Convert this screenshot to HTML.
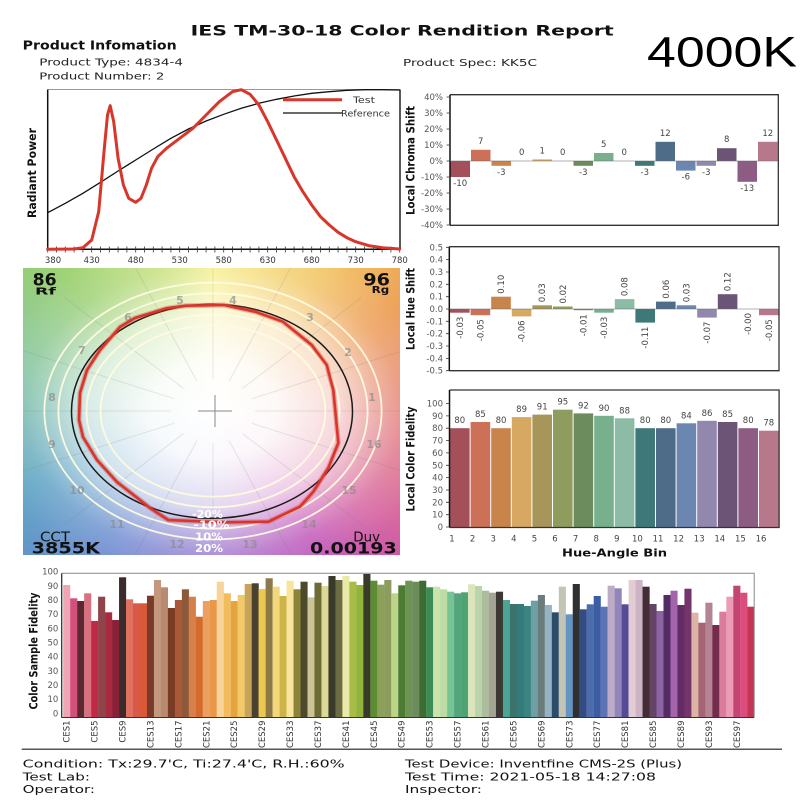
<!DOCTYPE html>
<html><head><meta charset="utf-8">
<style>
html,body{margin:0;padding:0;background:#fff;}
body{width:800px;height:800px;position:relative;overflow:hidden;}
#cvgbg{position:absolute;left:22.7px;top:268px;width:377.3px;height:287px;
background:
radial-gradient(ellipse 140px 107px at 190.3px 143px, rgba(255,255,255,1) 0%, rgba(255,255,255,0.95) 45%, rgba(255,255,255,0.72) 90%, rgba(255,255,255,0.42) 115%, rgba(255,255,255,0.2) 135%, rgba(255,255,255,0.05) 165%, rgba(255,255,255,0) 190%),
conic-gradient(from 0deg at 190.3px 143px, #f6ef88 0deg, #f2c462 38deg, #ec9a52 62deg, #e37a78 92deg, #d6609a 120deg, #c04fb6 142deg, #9a78d0 180deg, #6a8ad0 218deg, #58a0c2 248deg, #7cc0a0 280deg, #9ad070 312deg, #c6e07a 340deg, #f6ef88 360deg);}
svg{position:absolute;left:0;top:0;}
text{font-family:"DejaVu Sans","Liberation Sans",sans-serif;}
.tk{font-size:8.5px;fill:#555;}
.ax{font-size:11.5px;font-weight:bold;fill:#111;}
.bl{font-size:8.5px;fill:#444;}
.hl{font-size:11px;font-weight:bold;fill:#8a8a8a;fill-opacity:0.7;text-anchor:middle;}
</style></head><body>
<div id="cvgbg"></div>
<svg width="800" height="800" viewBox="0 0 800 800">
<defs><clipPath id="cv"><rect x="22.7" y="268" width="377.3" height="287"/></clipPath></defs>

<!-- Header -->
<text x="190.7" y="35.5" font-size="14.5" font-weight="bold" fill="#111" textLength="423" lengthAdjust="spacingAndGlyphs">IES TM-30-18 Color Rendition Report</text>
<text x="22.7" y="49.3" font-size="12" font-weight="bold" fill="#111" textLength="154" lengthAdjust="spacingAndGlyphs">Product Infomation</text>
<text x="39.3" y="65.7" font-size="10" fill="#222" textLength="143.7" lengthAdjust="spacingAndGlyphs">Product Type: 4834-4</text>
<text x="39.3" y="79.3" font-size="10" fill="#222" textLength="125" lengthAdjust="spacingAndGlyphs">Product Number: 2</text>
<text x="403" y="66" font-size="10" fill="#222" textLength="134" lengthAdjust="spacingAndGlyphs">Product Spec: KK5C</text>
<text x="647" y="66.7" font-size="42.5" fill="#000" style="font-family:'Liberation Sans',sans-serif" textLength="150" lengthAdjust="spacingAndGlyphs">4000K</text>

<!-- Spectral plot -->
<line x1="47.7" y1="89.5" x2="400" y2="89.5" stroke="#999" stroke-width="1"/>
<line x1="400" y1="89.5" x2="400" y2="249.3" stroke="#222" stroke-width="1.5"/>
<line x1="47.7" y1="89.5" x2="47.7" y2="249.3" stroke="#111" stroke-width="1.5"/>
<line x1="47.7" y1="249.3" x2="400" y2="249.3" stroke="#111" stroke-width="1.5"/>
<path d="M47.7 246.5v6M56.5 246.5v6M65.3 246.5v6M74.1 246.5v6M82.9 246.5v6M91.7 246.5v6M100.5 246.5v6M109.3 246.5v6M118.1 246.5v6M126.9 246.5v6M135.7 246.5v6M144.5 246.5v6M153.3 246.5v6M162.1 246.5v6M170.9 246.5v6M179.7 246.5v6M188.5 246.5v6M197.3 246.5v6M206.1 246.5v6M214.9 246.5v6M223.7 246.5v6M232.5 246.5v6M241.3 246.5v6M250.1 246.5v6M258.9 246.5v6M267.7 246.5v6M276.5 246.5v6M285.3 246.5v6M294.1 246.5v6M302.9 246.5v6M311.7 246.5v6M320.5 246.5v6M329.3 246.5v6M338.1 246.5v6M346.9 246.5v6M355.7 246.5v6M364.5 246.5v6M373.3 246.5v6M382.1 246.5v6M390.9 246.5v6M399.7 246.5v6" stroke="#333" stroke-width="0.8"/>
<g class="tk" text-anchor="middle" style="fill:#333">
<text x="53" y="263">380</text><text x="91.7" y="263">430</text><text x="135.7" y="263">480</text><text x="179.7" y="263">530</text><text x="223.7" y="263">580</text><text x="267.7" y="263">630</text><text x="311.7" y="263">680</text><text x="355.7" y="263">730</text><text x="399.7" y="263">780</text>
</g>
<polyline fill="none" stroke="#111" stroke-width="1.3" points="47.7,212.7 65.3,203.3 82.9,193.3 100.5,182.3 118.1,171 135.7,160 153.3,149 170.9,138.3 188.5,129 206.1,121 223.7,114.3 241.3,108.3 258.9,103.3 276.5,99.3 294.1,96 311.7,93.3 329.3,91.7 346.9,90.3 364.5,89.7 382.1,89.7 399.7,90"/>
<polyline fill="none" stroke="#d8352b" stroke-width="3" stroke-linejoin="round" stroke-linecap="round" points="47.7,249.3 74.1,249 82.9,247.7 91.7,240 98.7,211.7 104,151.7 107.5,115 110.2,105.7 113.7,121.7 118.1,158.3 123.4,185 128.7,198.3 135.7,202.3 141,198.3 146.3,185 151.5,168.3 157.7,156.7 166.5,148.3 179.7,138.3 192.9,128.3 206.1,115 219.3,101.7 232.5,91.7 241.3,89.7 250.1,94.3 258.9,105 267.7,121.7 276.5,140 285.3,158.3 294.1,176.7 302.9,191.7 311.7,205 320.5,216.7 329.3,225 338.1,232.3 346.9,237.7 355.7,241.7 368.9,245.7 382.1,247.7 399.7,249"/>
<line x1="283" y1="99.7" x2="342" y2="99.7" stroke="#d8352b" stroke-width="3"/>
<text x="353" y="103" font-size="8.5" fill="#333" textLength="22" lengthAdjust="spacingAndGlyphs">Test</text>
<line x1="283" y1="113" x2="342" y2="113" stroke="#111" stroke-width="1.2"/>
<text x="341" y="116.5" font-size="8.5" fill="#333" textLength="49" lengthAdjust="spacingAndGlyphs">Reference</text>
<text class="ax" transform="translate(36,173) rotate(-90)" text-anchor="middle" textLength="90" lengthAdjust="spacingAndGlyphs">Radiant Power</text>

<!-- CVG -->
<g clip-path="url(#cv)">
<path d="M251.8 398.7L407 349.5M242.7 388.3L361.5 297.5M229.1 381.3L293.4 262.7M213 378.9L213 250.5M196.9 381.3L132.6 262.7M183.3 388.3L64.5 297.5M174.2 398.7L19 349.5M174.2 423.3L19 472.5M183.3 433.7L64.5 524.5M196.9 440.7L132.6 559.3M213 443.1L213 571.5M229.1 440.7L293.4 559.3M242.7 433.7L361.5 524.5M251.8 423.3L407 472.5M255 411L423 411M171 411L3 411" stroke="#777" stroke-opacity="0.17" stroke-width="1"/>
<g fill="none" stroke="#fffbe0" stroke-width="1.8" stroke-opacity="0.95">
<ellipse cx="213" cy="411" rx="112.4" ry="85.6"/>
<ellipse cx="213" cy="411" rx="126.5" ry="96.3"/>
<ellipse cx="213" cy="411" rx="154.6" ry="117.7"/>
<ellipse cx="213" cy="411" rx="168.6" ry="128.4"/>
</g>
<path d="M198 411H232M215 395V427" stroke="#888" stroke-width="1"/>
<g class="hl">
<text x="372" y="401">1</text><text x="348" y="356">2</text><text x="310" y="321">3</text><text x="233" y="304">4</text><text x="180" y="304">5</text><text x="128" y="321">6</text><text x="82" y="354">7</text><text x="52" y="401">8</text><text x="52" y="448">9</text><text x="77" y="494">10</text><text x="117" y="528">11</text><text x="177" y="548">12</text><text x="250" y="548">13</text><text x="309" y="528">14</text><text x="349" y="494">15</text><text x="374" y="448">16</text>
</g>
<ellipse cx="212" cy="411.3" rx="140.5" ry="107" fill="none" stroke="#1a1a1a" stroke-width="1.5"/>
<polygon fill="none" stroke="#d8352b" stroke-opacity="0.35" stroke-width="5" stroke-linejoin="round" points="186,305.7 224,305 255,311.7 283,321.7 311.7,345 326.7,365 333.3,390 336,418 338.3,443 328.3,468 313.3,491.7 300,506.7 268.3,521.7 223.3,522.3 168.3,520 150,508 140,500 117,482 97,460 83,437 79,420 80,393 87,370 100,350 120,327 135,318 166.7,308.3"/>
<polygon fill="none" stroke="#d8352b" stroke-width="2.6" stroke-linejoin="round" points="186,305.7 224,305 255,311.7 283,321.7 311.7,345 326.7,365 333.3,390 336,418 338.3,443 328.3,468 313.3,491.7 300,506.7 268.3,521.7 223.3,522.3 168.3,520 150,508 140,500 117,482 97,460 83,437 79,420 80,393 87,370 100,350 120,327 135,318 166.7,308.3"/>
<g font-weight="bold" font-size="10.5" fill="#fff" text-anchor="middle">
<text x="207.5" y="518" textLength="31" lengthAdjust="spacingAndGlyphs">-20%</text>
<text x="211.5" y="528.5" textLength="36" lengthAdjust="spacingAndGlyphs">-10%</text>
<text x="209" y="540.5" textLength="28" lengthAdjust="spacingAndGlyphs">10%</text>
<text x="209" y="552" textLength="28" lengthAdjust="spacingAndGlyphs">20%</text>
</g>
<g fill="#111">
<text x="32.7" y="285.5" font-size="17" font-weight="bold" textLength="24" lengthAdjust="spacingAndGlyphs">86</text>
<text x="35" y="294.5" font-size="9.5" font-weight="bold" textLength="21" lengthAdjust="spacingAndGlyphs">Rf</text>
<text x="363.3" y="285.5" font-size="17" font-weight="bold" textLength="26.7" lengthAdjust="spacingAndGlyphs">96</text>
<text x="371.7" y="293" font-size="9.5" font-weight="bold" textLength="17.6" lengthAdjust="spacingAndGlyphs">Rg</text>
<text x="40" y="541.7" font-size="13.5" textLength="30" lengthAdjust="spacingAndGlyphs">CCT</text>
<text x="31.7" y="553.3" font-size="16" font-weight="bold" textLength="68.3" lengthAdjust="spacingAndGlyphs">3855K</text>
<text x="353.3" y="541.7" font-size="13.5" textLength="26.7" lengthAdjust="spacingAndGlyphs">Duv</text>
<text x="310" y="553.3" font-size="16" font-weight="bold" textLength="86.7" lengthAdjust="spacingAndGlyphs">0.00193</text>
</g>
</g>

<!-- Local Chroma Shift -->
<g>
<rect x="450.5" y="161" width="19.5" height="16" fill="#a4505a"/>
<rect x="471" y="149.8" width="19.5" height="11.2" fill="#cc7058"/>
<rect x="491.5" y="161" width="19.5" height="4.8" fill="#c8844a"/>
<rect x="532.5" y="159.4" width="19.5" height="1.6" fill="#d6a862"/>
<rect x="573.5" y="161" width="19.5" height="4.8" fill="#6c8c5e"/>
<rect x="594" y="153" width="19.5" height="8" fill="#78b08e"/>
<rect x="635" y="161" width="19.5" height="4.8" fill="#3e7878"/>
<rect x="655.5" y="141.8" width="19.5" height="19.2" fill="#4e6c88"/>
<rect x="676" y="161" width="19.5" height="9.6" fill="#6c86b2"/>
<rect x="696.5" y="161" width="19.5" height="4.8" fill="#9288ae"/>
<rect x="717" y="148.2" width="19.5" height="12.8" fill="#6c5476"/>
<rect x="737.5" y="161" width="19.5" height="20.8" fill="#8c5c82"/>
<rect x="758" y="141.8" width="19.5" height="19.2" fill="#b8788c"/>
</g>
<path d="M450 94.7H778.3V225.3H450" fill="none" stroke="#333" stroke-width="1.3"/>
<line x1="450" y1="94.7" x2="450" y2="225.3" stroke="#111" stroke-width="1.5"/>
<line x1="450" y1="161" x2="778" y2="161" stroke="#666" stroke-width="0.6"/>
<path d="M446.5 97H450M446.5 113H450M446.5 129H450M446.5 145H450M446.5 161H450M446.5 177H450M446.5 193H450M446.5 209H450M446.5 225H450" stroke="#333" stroke-width="0.8"/>
<g class="tk" text-anchor="end">
<text x="443" y="100">40%</text><text x="443" y="116">30%</text><text x="443" y="132">20%</text><text x="443" y="148">10%</text><text x="443" y="164">0%</text><text x="443" y="180">-10%</text><text x="443" y="196">-20%</text><text x="443" y="212">-30%</text><text x="443" y="228">-40%</text>
</g>
<g class="bl" text-anchor="middle">
<text x="460.25" y="186">-10</text><text x="480.75" y="143.8">7</text><text x="501.25" y="174.8">-3</text><text x="521.75" y="155">0</text><text x="542.25" y="153.4">1</text><text x="562.75" y="155">0</text><text x="583.25" y="174.8">-3</text><text x="603.75" y="147">5</text><text x="624.25" y="155">0</text><text x="644.75" y="174.8">-3</text><text x="665.25" y="135.8">12</text><text x="685.75" y="179.6">-6</text><text x="706.25" y="174.8">-3</text><text x="726.75" y="142.2">8</text><text x="747.25" y="190.8">-13</text><text x="767.75" y="135.8">12</text>
</g>
<text class="ax" transform="translate(414.5,160.5) rotate(-90)" text-anchor="middle" textLength="109" lengthAdjust="spacingAndGlyphs">Local Chroma Shift</text>

<!-- Local Hue Shift -->
<g>
<rect x="450" y="309" width="19.6" height="3.7" fill="#a4505a"/>
<rect x="470.6" y="309" width="19.6" height="6.2" fill="#cc7058"/>
<rect x="491.2" y="296.7" width="19.6" height="12.3" fill="#c8844a"/>
<rect x="511.8" y="309" width="19.6" height="7.4" fill="#d6a862"/>
<rect x="532.4" y="305.3" width="19.6" height="3.7" fill="#a8955a"/>
<rect x="553" y="306.5" width="19.6" height="2.5" fill="#8e9c5e"/>
<rect x="573.6" y="309" width="19.6" height="1.2" fill="#6c8c5e"/>
<rect x="594.2" y="309" width="19.6" height="3.7" fill="#78b08e"/>
<rect x="614.8" y="299.1" width="19.6" height="9.9" fill="#8cbca6"/>
<rect x="635.4" y="309" width="19.6" height="13.6" fill="#3e7878"/>
<rect x="656" y="301.6" width="19.6" height="7.4" fill="#4e6c88"/>
<rect x="676.6" y="305.3" width="19.6" height="3.7" fill="#6c86b2"/>
<rect x="697.2" y="309" width="19.6" height="8.6" fill="#9288ae"/>
<rect x="717.8" y="294.2" width="19.6" height="14.8" fill="#6c5476"/>
<rect x="759" y="309" width="19.6" height="6.2" fill="#b8788c"/>
</g>
<path d="M449.3 246.7H779V370.7H449.3" fill="none" stroke="#333" stroke-width="1.3"/>
<line x1="449.3" y1="246.7" x2="449.3" y2="370.7" stroke="#111" stroke-width="1.5"/>
<line x1="449.3" y1="309" x2="779" y2="309" stroke="#666" stroke-width="0.6"/>
<path d="M446 247.3H449.3M446 259.6H449.3M446 272H449.3M446 284.3H449.3M446 296.7H449.3M446 309H449.3M446 321.3H449.3M446 333.7H449.3M446 346H449.3M446 358.4H449.3M446 370.7H449.3" stroke="#333" stroke-width="0.8"/>
<g class="tk" text-anchor="end">
<text x="443" y="250.3">0.5</text><text x="443" y="262.6">0.4</text><text x="443" y="275">0.3</text><text x="443" y="287.3">0.2</text><text x="443" y="299.7">0.1</text><text x="443" y="312">0.0</text><text x="443" y="324.3">-0.1</text><text x="443" y="336.7">-0.2</text><text x="443" y="349">-0.3</text><text x="443" y="361.4">-0.4</text><text x="443" y="373.7">-0.5</text>
</g>
<g class="bl">
<text transform="translate(462.8,316.7) rotate(-90)" text-anchor="end">-0.03</text>
<text transform="translate(483.4,319.2) rotate(-90)" text-anchor="end">-0.05</text>
<text transform="translate(504,293.7) rotate(-90)">0.10</text>
<text transform="translate(524.6,320.4) rotate(-90)" text-anchor="end">-0.06</text>
<text transform="translate(545.2,302.3) rotate(-90)">0.03</text>
<text transform="translate(565.8,303.5) rotate(-90)">0.02</text>
<text transform="translate(586.4,314.2) rotate(-90)" text-anchor="end">-0.01</text>
<text transform="translate(607,316.7) rotate(-90)" text-anchor="end">-0.03</text>
<text transform="translate(627.6,296.1) rotate(-90)">0.08</text>
<text transform="translate(648.2,326.6) rotate(-90)" text-anchor="end">-0.11</text>
<text transform="translate(668.8,298.6) rotate(-90)">0.06</text>
<text transform="translate(689.4,302.3) rotate(-90)">0.03</text>
<text transform="translate(710,321.6) rotate(-90)" text-anchor="end">-0.07</text>
<text transform="translate(730.6,291.2) rotate(-90)">0.12</text>
<text transform="translate(751.2,313) rotate(-90)" text-anchor="end">-0.00</text>
<text transform="translate(771.8,319.2) rotate(-90)" text-anchor="end">-0.05</text>
</g>
<text class="ax" transform="translate(414.5,309) rotate(-90)" text-anchor="middle" textLength="82" lengthAdjust="spacingAndGlyphs">Local Hue Shift</text>

<!-- Local Color Fidelity -->
<g>
<rect x="450" y="428.2" width="19.6" height="98.8" fill="#a4505a"/>
<rect x="470.6" y="422" width="19.6" height="105" fill="#cc7058"/>
<rect x="491.2" y="428.2" width="19.6" height="98.8" fill="#c8844a"/>
<rect x="511.8" y="417.1" width="19.6" height="109.9" fill="#d6a862"/>
<rect x="532.4" y="414.6" width="19.6" height="112.4" fill="#a8955a"/>
<rect x="553" y="409.7" width="19.6" height="117.3" fill="#8e9c5e"/>
<rect x="573.6" y="413.4" width="19.6" height="113.6" fill="#6c8c5e"/>
<rect x="594.2" y="415.8" width="19.6" height="111.2" fill="#78b08e"/>
<rect x="614.8" y="418.3" width="19.6" height="108.7" fill="#8cbca6"/>
<rect x="635.4" y="428.2" width="19.6" height="98.8" fill="#3e7878"/>
<rect x="656" y="428.2" width="19.6" height="98.8" fill="#4e6c88"/>
<rect x="676.6" y="423.3" width="19.6" height="103.7" fill="#6c86b2"/>
<rect x="697.2" y="420.8" width="19.6" height="106.2" fill="#9288ae"/>
<rect x="717.8" y="422" width="19.6" height="105" fill="#6c5476"/>
<rect x="738.4" y="428.2" width="19.6" height="98.8" fill="#8c5c82"/>
<rect x="759" y="430.7" width="19.6" height="96.3" fill="#b8788c"/>
</g>
<path d="M449.5 390H779.1V527.5H449.5" fill="none" stroke="#333" stroke-width="1.3"/>
<line x1="449.5" y1="390" x2="449.5" y2="527.5" stroke="#111" stroke-width="1.5"/>
<path d="M446 527H449.5M446 514.7H449.5M446 502.3H449.5M446 490H449.5M446 477.6H449.5M446 465.3H449.5M446 452.9H449.5M446 440.6H449.5M446 428.2H449.5M446 415.9H449.5M446 403.5H449.5" stroke="#333" stroke-width="0.8"/>
<g class="tk" text-anchor="end">
<text x="443" y="530">0</text><text x="443" y="517.7">10</text><text x="443" y="505.3">20</text><text x="443" y="493">30</text><text x="443" y="480.6">40</text><text x="443" y="468.3">50</text><text x="443" y="455.9">60</text><text x="443" y="443.6">70</text><text x="443" y="431.2">80</text><text x="443" y="418.9">90</text><text x="443" y="406.5">100</text>
</g>
<g class="bl" text-anchor="middle">
<text x="459.8" y="423.2">80</text><text x="480.4" y="417">85</text><text x="501" y="423.2">80</text><text x="521.6" y="412.1">89</text><text x="542.2" y="409.6">91</text><text x="562.8" y="404.7">95</text><text x="583.4" y="408.4">92</text><text x="604" y="410.8">90</text><text x="624.6" y="413.3">88</text><text x="645.2" y="423.2">80</text><text x="665.8" y="423.2">80</text><text x="686.4" y="418.3">84</text><text x="707" y="415.8">86</text><text x="727.6" y="417">85</text><text x="748.2" y="423.2">80</text><text x="768.8" y="425.7">78</text>
</g>
<g class="tk" text-anchor="middle" style="fill:#444">
<text x="452" y="541.5">1</text><text x="472.6" y="541.5">2</text><text x="493.2" y="541.5">3</text><text x="513.8" y="541.5">4</text><text x="534.4" y="541.5">5</text><text x="555" y="541.5">6</text><text x="575.6" y="541.5">7</text><text x="596.2" y="541.5">8</text><text x="616.8" y="541.5">9</text><text x="637.4" y="541.5">10</text><text x="658" y="541.5">11</text><text x="678.6" y="541.5">12</text><text x="699.2" y="541.5">13</text><text x="719.8" y="541.5">14</text><text x="740.4" y="541.5">15</text><text x="761" y="541.5">16</text>
</g>
<text x="614.5" y="556.7" font-size="11" font-weight="bold" fill="#111" text-anchor="middle" textLength="105" lengthAdjust="spacingAndGlyphs">Hue-Angle Bin</text>
<text class="ax" transform="translate(414.5,459) rotate(-90)" text-anchor="middle" textLength="105" lengthAdjust="spacingAndGlyphs">Local Color Fidelity</text>

<!-- Color Sample Fidelity -->
<g>
<rect x="63.20" y="585.0" width="7.1" height="132.3" fill="#f0a5b5"/>
<rect x="70.18" y="598.3" width="7.1" height="119.0" fill="#d2507a"/>
<rect x="77.16" y="601.0" width="7.1" height="116.3" fill="#5a2830"/>
<rect x="84.14" y="593.3" width="7.1" height="124.0" fill="#d87080"/>
<rect x="91.12" y="621.0" width="7.1" height="96.3" fill="#c02a45"/>
<rect x="98.10" y="596.7" width="7.1" height="120.6" fill="#8e4448"/>
<rect x="105.08" y="612.3" width="7.1" height="105.0" fill="#a82a40"/>
<rect x="112.06" y="620.0" width="7.1" height="97.3" fill="#8a2035"/>
<rect x="119.04" y="577.3" width="7.1" height="140.0" fill="#3a2c2c"/>
<rect x="126.02" y="599.3" width="7.1" height="118.0" fill="#e07060"/>
<rect x="133.00" y="603.3" width="7.1" height="114.0" fill="#d8584a"/>
<rect x="139.98" y="603.3" width="7.1" height="114.0" fill="#d85838"/>
<rect x="146.96" y="595.7" width="7.1" height="121.6" fill="#7a3a2a"/>
<rect x="153.94" y="580.0" width="7.1" height="137.3" fill="#c4987c"/>
<rect x="160.92" y="587.3" width="7.1" height="130.0" fill="#b88a70"/>
<rect x="167.90" y="608.0" width="7.1" height="109.3" fill="#7a3c24"/>
<rect x="174.88" y="600.0" width="7.1" height="117.3" fill="#a85a38"/>
<rect x="181.86" y="589.3" width="7.1" height="128.0" fill="#8c5a3a"/>
<rect x="188.84" y="596.7" width="7.1" height="120.6" fill="#d8804c"/>
<rect x="195.82" y="616.7" width="7.1" height="100.6" fill="#d46a2c"/>
<rect x="202.80" y="601.0" width="7.1" height="116.3" fill="#eca060"/>
<rect x="209.78" y="600.0" width="7.1" height="117.3" fill="#e89848"/>
<rect x="216.76" y="581.7" width="7.1" height="135.6" fill="#f6d49a"/>
<rect x="223.74" y="593.3" width="7.1" height="124.0" fill="#f2bc5c"/>
<rect x="230.72" y="601.0" width="7.1" height="116.3" fill="#e4a440"/>
<rect x="237.70" y="595.0" width="7.1" height="122.3" fill="#f2c868"/>
<rect x="244.68" y="584.0" width="7.1" height="133.3" fill="#c8a458"/>
<rect x="251.66" y="583.3" width="7.1" height="134.0" fill="#4a4230"/>
<rect x="258.64" y="589.0" width="7.1" height="128.3" fill="#ecc84c"/>
<rect x="265.62" y="578.3" width="7.1" height="139.0" fill="#8c7848"/>
<rect x="272.60" y="586.7" width="7.1" height="130.6" fill="#f2d878"/>
<rect x="279.58" y="596.0" width="7.1" height="121.3" fill="#ccb448"/>
<rect x="286.56" y="580.7" width="7.1" height="136.6" fill="#f8e49c"/>
<rect x="293.54" y="589.3" width="7.1" height="128.0" fill="#8c8438"/>
<rect x="300.52" y="581.7" width="7.1" height="135.6" fill="#4c4a2c"/>
<rect x="307.50" y="597.3" width="7.1" height="120.0" fill="#ccc496"/>
<rect x="314.48" y="582.7" width="7.1" height="134.6" fill="#6c6c34"/>
<rect x="321.46" y="586.0" width="7.1" height="131.3" fill="#dcd898"/>
<rect x="328.44" y="576.0" width="7.1" height="141.3" fill="#3a3a2a"/>
<rect x="335.42" y="580.0" width="7.1" height="137.3" fill="#6c6c44"/>
<rect x="342.40" y="576.0" width="7.1" height="141.3" fill="#eaeaa8"/>
<rect x="349.38" y="581.7" width="7.1" height="135.6" fill="#a8bc48"/>
<rect x="356.36" y="585.0" width="7.1" height="132.3" fill="#92b43c"/>
<rect x="363.34" y="574.0" width="7.1" height="143.3" fill="#383a2a"/>
<rect x="370.32" y="580.7" width="7.1" height="136.6" fill="#5c8c34"/>
<rect x="377.30" y="584.7" width="7.1" height="132.6" fill="#8ca05c"/>
<rect x="384.28" y="580.0" width="7.1" height="137.3" fill="#8c9c5c"/>
<rect x="391.26" y="593.3" width="7.1" height="124.0" fill="#bcd488"/>
<rect x="398.24" y="585.3" width="7.1" height="132.0" fill="#4c7c34"/>
<rect x="405.22" y="580.7" width="7.1" height="136.6" fill="#6c9454"/>
<rect x="412.20" y="581.7" width="7.1" height="135.6" fill="#6c8c5c"/>
<rect x="419.18" y="580.7" width="7.1" height="136.6" fill="#3c6c34"/>
<rect x="426.16" y="587.3" width="7.1" height="130.0" fill="#3c8c54"/>
<rect x="433.14" y="586.7" width="7.1" height="130.6" fill="#cce4ac"/>
<rect x="440.12" y="589.3" width="7.1" height="128.0" fill="#bcdca4"/>
<rect x="447.10" y="591.7" width="7.1" height="125.6" fill="#74c494"/>
<rect x="454.08" y="593.3" width="7.1" height="124.0" fill="#54a47c"/>
<rect x="461.06" y="592.3" width="7.1" height="125.0" fill="#4ca474"/>
<rect x="468.04" y="584.3" width="7.1" height="133.0" fill="#dce4bc"/>
<rect x="475.02" y="586.0" width="7.1" height="131.3" fill="#bcd4ac"/>
<rect x="482.00" y="590.7" width="7.1" height="126.6" fill="#acbc9c"/>
<rect x="488.98" y="592.7" width="7.1" height="124.6" fill="#a4a494"/>
<rect x="495.96" y="591.7" width="7.1" height="125.6" fill="#3c3834"/>
<rect x="502.94" y="600.0" width="7.1" height="117.3" fill="#4ca494"/>
<rect x="509.92" y="604.0" width="7.1" height="113.3" fill="#3c746c"/>
<rect x="516.90" y="604.0" width="7.1" height="113.3" fill="#347c7c"/>
<rect x="523.88" y="606.0" width="7.1" height="111.3" fill="#3c8484"/>
<rect x="530.86" y="600.7" width="7.1" height="116.6" fill="#6ca0a4"/>
<rect x="537.84" y="595.0" width="7.1" height="122.3" fill="#6c7c7c"/>
<rect x="544.82" y="605.0" width="7.1" height="112.3" fill="#94b4c4"/>
<rect x="551.80" y="612.3" width="7.1" height="105.0" fill="#2c4c6c"/>
<rect x="558.78" y="586.7" width="7.1" height="130.6" fill="#c4c4b4"/>
<rect x="565.76" y="614.3" width="7.1" height="103.0" fill="#6494c4"/>
<rect x="572.74" y="584.0" width="7.1" height="133.3" fill="#303030"/>
<rect x="579.72" y="609.3" width="7.1" height="108.0" fill="#344c84"/>
<rect x="586.70" y="604.3" width="7.1" height="113.0" fill="#4c6cac"/>
<rect x="593.68" y="596.0" width="7.1" height="121.3" fill="#3c5ca4"/>
<rect x="600.66" y="606.7" width="7.1" height="110.6" fill="#5c74b4"/>
<rect x="607.64" y="585.7" width="7.1" height="131.6" fill="#bcacc8"/>
<rect x="614.62" y="588.3" width="7.1" height="129.0" fill="#9484bc"/>
<rect x="621.60" y="604.3" width="7.1" height="113.0" fill="#544c94"/>
<rect x="628.58" y="580.0" width="7.1" height="137.3" fill="#e4ccd4"/>
<rect x="635.56" y="580.0" width="7.1" height="137.3" fill="#ccb4c4"/>
<rect x="642.54" y="586.7" width="7.1" height="130.6" fill="#442c34"/>
<rect x="649.52" y="604.0" width="7.1" height="113.3" fill="#644464"/>
<rect x="656.50" y="611.0" width="7.1" height="106.3" fill="#8c64a4"/>
<rect x="663.48" y="595.0" width="7.1" height="122.3" fill="#542c64"/>
<rect x="670.46" y="590.7" width="7.1" height="126.6" fill="#a464ac"/>
<rect x="677.44" y="605.0" width="7.1" height="112.3" fill="#642c64"/>
<rect x="684.42" y="588.7" width="7.1" height="128.6" fill="#74346c"/>
<rect x="691.40" y="612.7" width="7.1" height="104.6" fill="#dcb4a4"/>
<rect x="698.38" y="622.7" width="7.1" height="94.6" fill="#a46474"/>
<rect x="705.36" y="602.7" width="7.1" height="114.6" fill="#b48494"/>
<rect x="712.34" y="625.0" width="7.1" height="92.3" fill="#742c4c"/>
<rect x="719.32" y="611.7" width="7.1" height="105.6" fill="#dc7c9c"/>
<rect x="726.30" y="596.7" width="7.1" height="120.6" fill="#ec9cb4"/>
<rect x="733.28" y="585.7" width="7.1" height="131.6" fill="#c44474"/>
<rect x="740.26" y="592.7" width="7.1" height="124.6" fill="#dc4c7c"/>
<rect x="747.24" y="606.7" width="7.0" height="110.6" fill="#c43454"/>
</g>
<path d="M62 573.3H754.2V717.3" fill="none" stroke="#888" stroke-width="1"/>
<line x1="61.7" y1="573.3" x2="61.7" y2="717.8" stroke="#333" stroke-width="1.3"/>
<line x1="61.7" y1="717.5" x2="754.2" y2="717.5" stroke="#333" stroke-width="1"/>
<g class="tk" text-anchor="end">
<text x="58.3" y="574.7">100</text><text x="58.3" y="588.9">90</text><text x="58.3" y="603">80</text><text x="58.3" y="617.2">70</text><text x="58.3" y="631.3">60</text><text x="58.3" y="645.5">50</text><text x="58.3" y="659.7">40</text><text x="58.3" y="673.8">30</text><text x="58.3" y="688">20</text><text x="58.3" y="702.1">10</text><text x="58.3" y="716.3">0</text>
</g>
<g font-size="8.5" fill="#333" text-anchor="end">
<text transform="translate(69.7,720.5) rotate(-90)">CES1</text>
<text transform="translate(97.6,720.5) rotate(-90)">CES5</text>
<text transform="translate(125.5,720.5) rotate(-90)">CES9</text>
<text transform="translate(153.5,720.5) rotate(-90)">CES13</text>
<text transform="translate(181.4,720.5) rotate(-90)">CES17</text>
<text transform="translate(209.3,720.5) rotate(-90)">CES21</text>
<text transform="translate(237.2,720.5) rotate(-90)">CES25</text>
<text transform="translate(265.1,720.5) rotate(-90)">CES29</text>
<text transform="translate(293.1,720.5) rotate(-90)">CES33</text>
<text transform="translate(321,720.5) rotate(-90)">CES37</text>
<text transform="translate(348.9,720.5) rotate(-90)">CES41</text>
<text transform="translate(376.8,720.5) rotate(-90)">CES45</text>
<text transform="translate(404.7,720.5) rotate(-90)">CES49</text>
<text transform="translate(432.7,720.5) rotate(-90)">CES53</text>
<text transform="translate(460.6,720.5) rotate(-90)">CES57</text>
<text transform="translate(488.5,720.5) rotate(-90)">CES61</text>
<text transform="translate(516.4,720.5) rotate(-90)">CES65</text>
<text transform="translate(544.3,720.5) rotate(-90)">CES69</text>
<text transform="translate(572.3,720.5) rotate(-90)">CES73</text>
<text transform="translate(600.2,720.5) rotate(-90)">CES77</text>
<text transform="translate(628.1,720.5) rotate(-90)">CES81</text>
<text transform="translate(656,720.5) rotate(-90)">CES85</text>
<text transform="translate(683.9,720.5) rotate(-90)">CES89</text>
<text transform="translate(711.9,720.5) rotate(-90)">CES93</text>
<text transform="translate(739.8,720.5) rotate(-90)">CES97</text>
</g>
<text class="ax" transform="translate(37.5,651) rotate(-90)" text-anchor="middle" textLength="117" lengthAdjust="spacingAndGlyphs">Color Sample Fidelity</text>

<!-- Footer -->
<line x1="21.7" y1="749.3" x2="782" y2="749.3" stroke="#555" stroke-width="1.5"/>
<g font-size="11" fill="#111">
<text x="22.7" y="767.3" textLength="322" lengthAdjust="spacingAndGlyphs">Condition: Tx:29.7'C, Ti:27.4'C, R.H.:60%</text>
<text x="22.7" y="780.7" textLength="67.3" lengthAdjust="spacingAndGlyphs">Test Lab:</text>
<text x="22.7" y="793" textLength="72.3" lengthAdjust="spacingAndGlyphs">Operator:</text>
<text x="405" y="767.3" textLength="277" lengthAdjust="spacingAndGlyphs">Test Device: Inventfine CMS-2S (Plus)</text>
<text x="405" y="780.7" textLength="251" lengthAdjust="spacingAndGlyphs">Test Time: 2021-05-18 14:27:08</text>
<text x="405" y="793" textLength="77" lengthAdjust="spacingAndGlyphs">Inspector:</text>
</g>
</svg>
</body></html>
